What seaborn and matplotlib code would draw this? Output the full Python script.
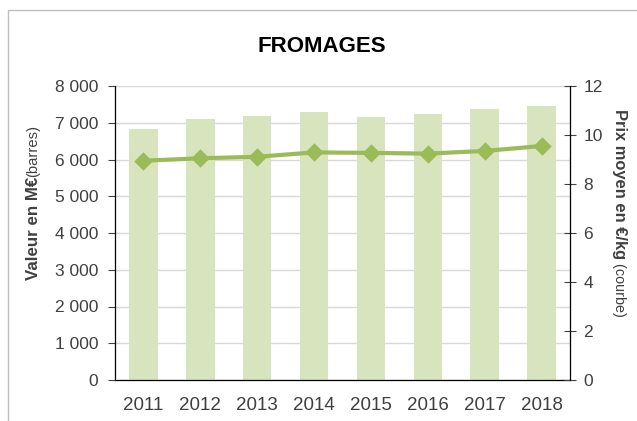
import matplotlib
matplotlib.use("Agg")
import matplotlib.pyplot as plt
import seaborn as sns
import pandas as pd
from matplotlib.lines import Line2D
from matplotlib.ticker import FixedLocator, FuncFormatter

# Données
annees = ["2011", "2012", "2013", "2014", "2015", "2016", "2017", "2018"]
valeur_meur = [6840, 7090, 7180, 7280, 7170, 7230, 7370, 7450]
prix_kg = [8.95, 9.05, 9.11, 9.29, 9.27, 9.24, 9.35, 9.55]

df = pd.DataFrame({"annee": annees, "valeur": valeur_meur, "prix": prix_kg})

BAR_COLOR = "#d7e4bd"
LINE_COLOR = "#9bbb59"
TXT = "#404040"

sns.set_style("white")
plt.rcParams["font.family"] = ["Liberation Sans", "DejaVu Sans"]

W, H = 637, 421
fig = plt.figure(figsize=(W / 100, H / 100), dpi=100)
ax = fig.add_axes([115 / W, 1 - 380 / H, (570 - 115) / W, (380 - 86) / H])

sns.barplot(data=df, x="annee", y="valeur", color=BAR_COLOR, saturation=1,
            width=0.5, linewidth=0, ax=ax, zorder=2)

ax2 = ax.twinx()
sns.pointplot(data=df, x="annee", y="prix", color=LINE_COLOR, markers="D",
              markersize=7.5, linewidth=3, errorbar=None, ax=ax2)

# axe gauche
ax.set_ylim(0, 8000)
ax.set_yticks(range(0, 8001, 1000))
ax.yaxis.set_major_formatter(FuncFormatter(lambda v, p: f"{int(v):,}".replace(",", " ")))
ax.yaxis.grid(True, color="#d9d9d9", linewidth=1)
ax.set_axisbelow(True)
ax.set_xlim(-0.5, 7.5)
ax.set_xlabel("")
ax.set_ylabel("")

# axe droit
ax2.set_ylim(0, 12)
ax2.set_yticks(range(0, 13, 2))
ax2.set_xlim(-0.5, 7.5)
ax2.set_xlabel("")
ax2.set_ylabel("")

for a in (ax, ax2):
    a.spines["top"].set_visible(False)
    for s in ("left", "right", "bottom"):
        a.spines[s].set_color("black")
        a.spines[s].set_linewidth(0.9)
ax.spines["right"].set_visible(False)
ax2.spines["left"].set_visible(False)
ax2.spines["bottom"].set_visible(False)

ax.tick_params(axis="y", direction="out", length=5, width=0.8, color="#404040",
               pad=7, labelsize=12.5, labelcolor=TXT)
ax.tick_params(axis="x", which="major", length=0, pad=12, labelsize=13.5, labelcolor=TXT)
ax.xaxis.set_minor_locator(FixedLocator([i - 0.5 for i in range(len(annees) + 1)]))
ax.tick_params(axis="x", which="minor", direction="inout", length=9, width=0.8,
               color="#404040")
ax2.tick_params(axis="y", direction="inout", length=9, width=0.8, color="#404040",
                pad=5, labelsize=12.5, labelcolor=TXT)

# cadre
fig.add_artist(Line2D([8 / W, 8 / W], [0, 1 - 10 / H], color="#bfbfbf", lw=1,
                      transform=fig.transFigure))
fig.add_artist(Line2D([8 / W, 1], [1 - 10 / H, 1 - 10 / H], color="#bfbfbf", lw=1,
                      transform=fig.transFigure))

fig.text(0.505, 1 - 47 / H, "FROMAGES", ha="center", va="center",
         fontsize=16, fontweight="bold", color="black")

# titres d'axes (partie gras + partie normale)
fig.canvas.draw()
r = fig.canvas.get_renderer()

t1 = fig.text(37.5 / W, (H - 280) / H, "Valeur en M€", rotation=90,
              rotation_mode="anchor", ha="left", va="baseline",
              fontsize=12.2, fontweight="bold", color=TXT)
bb = t1.get_window_extent(r)
fig.text(37.5 / W, bb.y1 / H, "(barres)", rotation=90, rotation_mode="anchor",
         ha="left", va="baseline", fontsize=10.6, color=TXT)

t2 = fig.text(615.5 / W, (H - 109) / H, "Prix moyen en €/kg", rotation=270,
              rotation_mode="anchor", ha="left", va="baseline",
              fontsize=11.9, fontweight="bold", color=TXT)
bb = t2.get_window_extent(r)
fig.text(615.5 / W, bb.y0 / H, " (courbe)", rotation=270, rotation_mode="anchor",
         ha="left", va="baseline", fontsize=10.4, color=TXT)

fig.savefig("out.png", dpi=100)
